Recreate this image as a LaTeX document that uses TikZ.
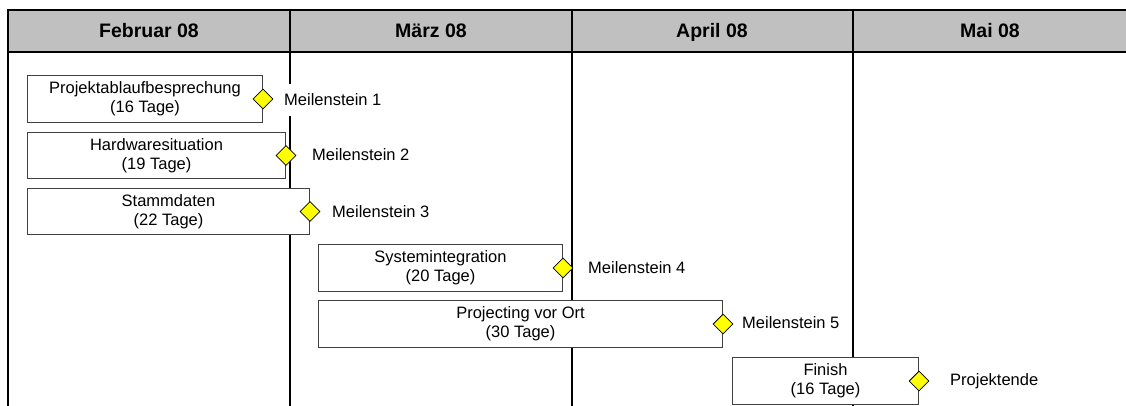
\documentclass[tikz,border=0pt]{standalone}
\usepackage{fontspec}
\setmainfont{Liberation Sans}
\usetikzlibrary{shapes.geometric}
\definecolor{hdrfill}{RGB}{192,192,192}
\definecolor{boxline}{RGB}{64,64,64}
\definecolor{msfill}{RGB}{255,255,0}
\begin{document}
\begin{tikzpicture}[x=1pt,y=-1pt,
  task/.style={draw=boxline, line width=1pt, fill=white, anchor=north west,
    align=center, inner sep=0pt, font=\fontsize{16.5}{19}\selectfont},
  ms/.style={diamond, draw=black, line width=0.8pt, fill=msfill,
    minimum size=20pt, inner sep=0pt},
  mslabel/.style={fill=white, anchor=west, inner sep=3pt, minimum height=32pt,
    font=\fontsize{16.5}{19}\selectfont},
  month/.style={font=\bfseries\fontsize{19.5}{22}\selectfont, inner sep=0pt,
    anchor=base},
  gridline/.style={line width=2pt, black}]
\useasboundingbox (0,0) rectangle (1126,405);

% month header band
\fill[hdrfill] (8,10) rectangle (1127,52);
\draw[gridline] (8,10) -- (1127,10);
\draw[gridline] (8,52) -- (1127,52);
\draw[gridline] (8,9) -- (8,406);
\foreach \x in {290,572,853}
  \draw[gridline] (\x,10) -- (\x,406);

\node[month] (feb) at (149,37.5) {Februar 08};
\node[month] (mar) at (431,37.5) {März 08};
\node[month] (apr) at (712,37.5) {April 08};
\node[month] (mai) at (990,37.5) {Mai 08};

% task bars
\node[task, minimum width=235pt, minimum height=47pt] (t1) at (27,75)
  {Projektablaufbesprechung\\(16 Tage)};
\node[task, minimum width=258pt, minimum height=46pt] (t2) at (27,132)
  {Hardwaresituation\\(19 Tage)};
\node[task, minimum width=282pt, minimum height=46pt] (t3) at (27,188)
  {Stammdaten\\(22 Tage)};
\node[task, minimum width=244pt, minimum height=47pt] (t4) at (318,244)
  {Systemintegration\\(20 Tage)};
\node[task, minimum width=404pt, minimum height=47pt] (t5) at (318,300)
  {Projecting vor Ort\\(30 Tage)};
\node[task, minimum width=186pt, minimum height=47pt] (t6) at (732,357)
  {Finish\\(16 Tage)};

% milestones
\node[ms] (m1) at (t1.east) {};
\node[ms] (m2) at (t2.east) {};
\node[ms] (m3) at (t3.east) {};
\node[ms] (m4) at (t4.east) {};
\node[ms] (m5) at (t5.east) {};
\node[ms] (m6) at (t6.east) {};

\node[mslabel] (l1) at (281,100) {Meilenstein 1};
\node[mslabel] (l2) at (309,155) {Meilenstein 2};
\node[mslabel] (l3) at (329,212) {Meilenstein 3};
\node[mslabel] (l4) at (585,268) {Meilenstein 4};
\node[mslabel] (l5) at (739,323) {Meilenstein 5};
\node[mslabel] (l6) at (947,381) {Projektende};
\end{tikzpicture}
\end{document}
